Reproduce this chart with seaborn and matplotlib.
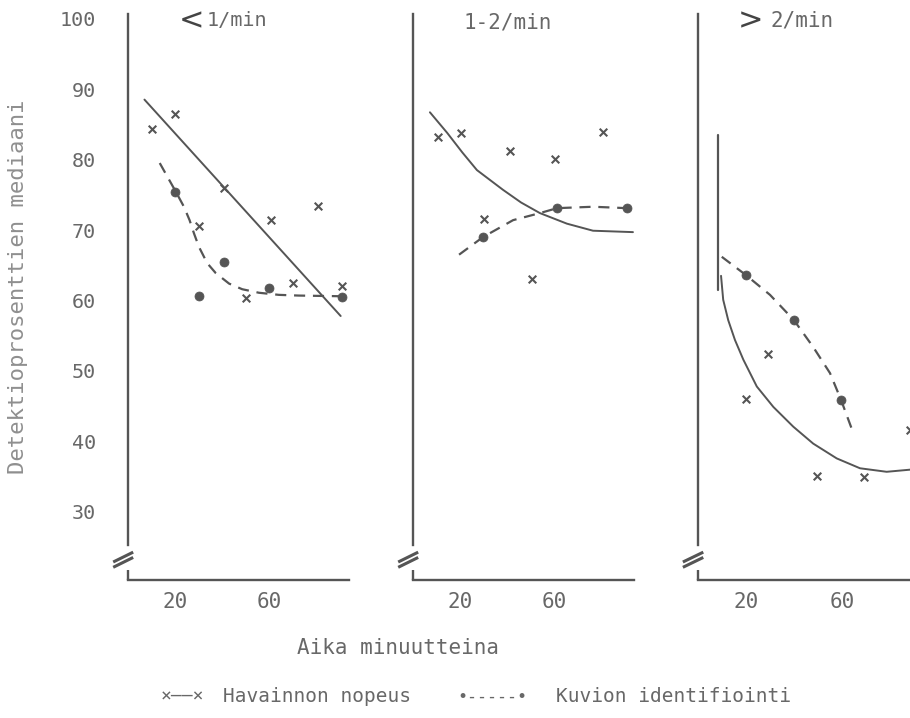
import matplotlib
matplotlib.use("Agg")
import numpy as np
import pandas as pd
import seaborn as sns
import matplotlib.pyplot as plt

# ---------------- data ----------------
panel_titles = ["1/min", "1-2/min", "2/min"]
ytick_values = [30, 40, 50, 60, 70, 80, 90, 100]
ytick_labels = ["30", "40", "50", "60", "70", "80", "90", "100"]
xtick_values = [20, 40, 60, 80]
xtick_labels = ["20", "", "60", ""]

# Panel 1: < 1/min
p1_obs_time = [10, 20, 30, 41, 50, 61, 70, 81, 91]
p1_obs_val = [84.3, 86.4, 70.6, 75.9, 60.4, 71.4, 62.5, 73.4, 62.0]
p1_id_time = [20, 30, 41, 60, 91]
p1_id_val = [75.4, 60.6, 65.5, 61.8, 60.5]
p1_obs_curve_time = [7.0, 90.5]
p1_obs_curve_val = [88.5, 57.8]
p1_id_curve_time = [13.5, 20.4, 23.8, 26.2, 28.1, 30.2, 33.7, 37.3, 43.0, 48.6, 55.7, 64.2, 72.7, 91.2]
p1_id_curve_val = [79.5, 75.4, 73.3, 71.4, 69.5, 67.6, 65.3, 63.9, 62.4, 61.6, 61.1, 60.8, 60.7, 60.6]

# Panel 2: 1-2/min
p2_obs_time = [10.6, 20.4, 30.2, 41.3, 50.6, 60.4, 80.9]
p2_obs_val = [83.2, 83.8, 71.6, 81.2, 63.1, 80.1, 83.9]
p2_id_time = [29.8, 61.3, 91.0]
p2_id_val = [69.0, 73.1, 73.1]
p2_obs_curve_time = [7.2, 14.5, 21.0, 27.2, 38.3, 46.0, 54.0, 65.5, 76.6, 93.6]
p2_obs_curve_val = [86.7, 83.8, 81.0, 78.5, 75.7, 73.9, 72.4, 70.9, 69.9, 69.7]
p2_id_curve_time = [19.6, 29.8, 42.6, 54.0, 61.3, 76.6, 91.0]
p2_id_curve_val = [66.5, 69.0, 71.4, 72.4, 73.1, 73.3, 73.1]

# Panel 3: > 2/min
p3_obs_time = [20, 29.2, 49.6, 69.2, 88.3]
p3_obs_val = [46.0, 52.4, 35.1, 35.0, 41.6]
p3_id_time = [20, 40, 59.6]
p3_id_val = [63.6, 57.2, 45.9]
p3_vline_time = [8.3, 8.3]
p3_vline_val = [83.5, 61.5]
p3_obs_curve_time = [9.6, 10.5, 12.6, 15.4, 18.9, 24.5, 31.4, 39.7, 48.0, 57.8, 67.5, 78.6, 88.3, 95.0]
p3_obs_curve_val = [63.5, 60.1, 57.2, 54.4, 51.6, 47.8, 44.9, 42.1, 39.7, 37.6, 36.2, 35.7, 36.0, 36.8]
p3_id_curve_time = [9.9, 20, 30, 40, 48, 55, 59.6, 64.6]
p3_id_curve_val = [66.2, 63.6, 60.8, 57.2, 53.4, 49.7, 45.9, 41.3]

# ---------------- style ----------------
sns.set_theme(style="white")
plt.rcParams["font.family"] = ["DejaVu Sans Mono", "DejaVu Sans"]

INK = "#555555"
TXT = "#686868"
W, H = 910, 718
fig = plt.figure(figsize=(9.1, 7.18), dpi=100)

YLIM = (20.35, 100.7)
TOP_PX, BOT_PX = 13.6, 580.0


def make_axes(x0_px, px_per_unit):
    ax = fig.add_axes([x0_px / W, 1 - BOT_PX / H, 94 * px_per_unit / W, (BOT_PX - TOP_PX) / H])
    ax.set_xlim(0, 94)
    ax.set_ylim(*YLIM)
    ax.set_facecolor("none")
    for s in ("top", "right"):
        ax.spines[s].set_visible(False)
    for s in ("left", "bottom"):
        ax.spines[s].set_color(INK)
        ax.spines[s].set_linewidth(1.7)
    ax.spines["left"].set_bounds(25.3, YLIM[1])
    # short stub below the axis break
    ax.plot([0, 0], [YLIM[0], 21.8], color=INK, lw=1.7, clip_on=False, solid_capstyle="butt")
    # break marks  //
    for dy in (0.0, -0.75):
        ax.plot([-6.3, 2.2], [22.9 + dy, 24.3 + dy], color=INK, lw=2.2, clip_on=False,
                solid_capstyle="butt")
    ax.set_xticks(xtick_values, labels=xtick_labels)
    ax.tick_params(axis="x", direction="out", length=4, width=1.3, color=INK,
                   labelsize=15, labelcolor=TXT, pad=5)
    ax.set_xlabel("")
    ax.set_ylabel("")
    return ax


def draw(ax, obs_t, obs_v, id_t, id_v, oc_t, oc_v, ic_t, ic_v):
    oc = pd.DataFrame({"t": oc_t, "v": oc_v})
    ic = pd.DataFrame({"t": ic_t, "v": ic_v})
    obs = pd.DataFrame({"t": obs_t, "v": obs_v})
    idf = pd.DataFrame({"t": id_t, "v": id_v})
    sns.lineplot(data=oc, x="t", y="v", ax=ax, color=INK, lw=1.4, sort=False, estimator=None)
    sns.lineplot(data=ic, x="t", y="v", ax=ax, color=INK, lw=1.6, sort=False, estimator=None,
                 dashes=False, linestyle=(0, (5, 3.5)))
    sns.scatterplot(data=obs, x="t", y="v", ax=ax, marker="x", s=30, color=INK, linewidth=1.5)
    sns.scatterplot(data=idf, x="t", y="v", ax=ax, marker="o", s=42, color=INK, edgecolor=INK)
    ax.set_xlabel("")
    ax.set_ylabel("")


# Panel 1
ax1 = make_axes(128, 2.35)
draw(ax1, p1_obs_time, p1_obs_val, p1_id_time, p1_id_val,
     p1_obs_curve_time, p1_obs_curve_val, p1_id_curve_time, p1_id_curve_val)
ax1.set_yticks(ytick_values, labels=ytick_labels)
ax1.tick_params(axis="y", direction="out", length=6, width=1.3, color=INK,
                labelsize=14.5, labelcolor=TXT, pad=17)

# Panel 2
ax2 = make_axes(413, 2.35)
draw(ax2, p2_obs_time, p2_obs_val, p2_id_time, p2_id_val,
     p2_obs_curve_time, p2_obs_curve_val, p2_id_curve_time, p2_id_curve_val)
ax2.set_yticks(ytick_values[:-1], labels=[""] * (len(ytick_values) - 1))
ax2.tick_params(axis="y", direction="out", length=5, width=1.2, color="#9a9a9a")

# Panel 3
ax3 = make_axes(698, 2.4)
sns.lineplot(data=pd.DataFrame({"t": p3_vline_time, "v": p3_vline_val}), x="t", y="v", ax=ax3,
             color=INK, lw=1.6, sort=False, estimator=None, orient="y")
draw(ax3, p3_obs_time, p3_obs_val, p3_id_time, p3_id_val,
     p3_obs_curve_time, p3_obs_curve_val, p3_id_curve_time, p3_id_curve_val)
ax3.set_yticks(ytick_values[:-1], labels=[""] * (len(ytick_values) - 1))
ax3.tick_params(axis="y", direction="out", length=5, width=1.2, color="#9a9a9a")

# ---------------- texts ----------------
def ftext(xp, yp, s, **kw):
    fig.text(xp / W, 1 - yp / H, s, **kw)

# panel titles
ftext(179, 21, "<", fontsize=22, color="#444444", ha="left", va="center", family="DejaVu Sans")
ftext(207, 21, panel_titles[0], fontsize=14.5, color=TXT, ha="left", va="center")
ftext(464, 22, panel_titles[1], fontsize=15, color=TXT, ha="left", va="center")
ftext(738, 21, ">", fontsize=22, color="#444444", ha="left", va="center", family="DejaVu Sans")
ftext(771, 21, panel_titles[2], fontsize=15, color=TXT, ha="left", va="center")

# axis labels
ftext(18, 287, "Detektioprosenttien mediaani", rotation=90, fontsize=16,
      color="#8f8f8f", ha="center", va="center")
ftext(398, 648, "Aika minuutteina", fontsize=15, color=TXT, ha="center", va="center")

# legend
ftext(204, 697, "×——×", fontsize=13, color=TXT, ha="right", va="center")
ftext(317, 697, "Havainnon nopeus", fontsize=14, color=TXT, ha="center", va="center")
ftext(492, 697, "•-----•", fontsize=12, color=TXT, ha="center", va="center")
ftext(673, 697, "Kuvion identifiointi", fontsize=14, color=TXT, ha="center", va="center")

fig.savefig("out.png", dpi=100, facecolor="white")
